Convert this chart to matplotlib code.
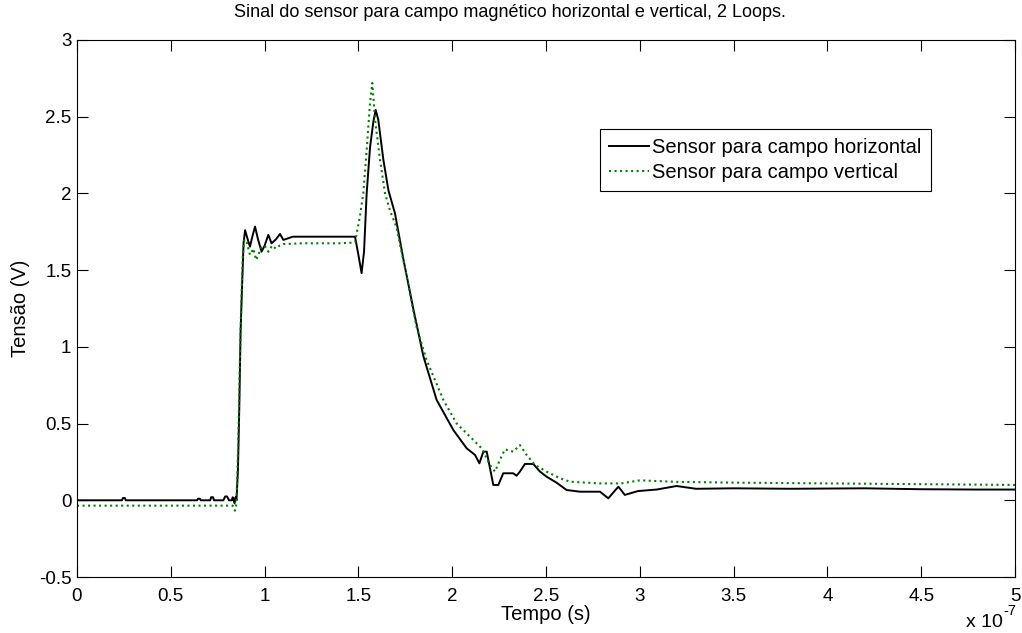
import numpy as np
import matplotlib
matplotlib.use("Agg")
import matplotlib.pyplot as plt
from matplotlib.ticker import FuncFormatter, MultipleLocator

plt.rcParams['font.family'] = ['Liberation Sans', 'DejaVu Sans']

# tempo em unidades de 1e-7 s
t_h = [0, 0.24, 0.245, 0.255, 0.26, 0.64, 0.645, 0.655, 0.66, 0.71, 0.715, 0.725, 0.73,
       0.78, 0.79, 0.8, 0.81, 0.825, 0.83, 0.84, 0.845, 0.85, 0.858, 0.865, 0.872, 0.88,
       0.888, 0.896, 0.91, 0.922, 0.935, 0.949, 0.965, 0.984, 1.0, 1.02, 1.037, 1.06,
       1.082, 1.1, 1.15, 1.2, 1.25, 1.3, 1.35, 1.4, 1.45, 1.482, 1.5, 1.517, 1.53, 1.544,
       1.562, 1.58, 1.592, 1.606, 1.633, 1.66, 1.695, 1.74, 1.794, 1.847, 1.917, 2.006,
       2.077, 2.122, 2.145, 2.166, 2.184, 2.219, 2.246, 2.272, 2.325, 2.343, 2.361, 2.388,
       2.432, 2.468, 2.503, 2.556, 2.61, 2.681, 2.788, 2.832, 2.886, 2.92, 2.99, 3.09,
       3.196, 3.3, 3.5, 3.8, 4.2, 4.5, 4.8, 5.0]
v_h = [0, 0, 0.015, 0.015, 0, 0, 0.01, 0.01, 0, 0, 0.02, 0.02, 0,
       0, 0.025, 0.025, 0, 0, 0.02, -0.02, 0.02, 0.0, 0.2, 0.6, 1.1, 1.4,
       1.68, 1.76, 1.70, 1.653, 1.72, 1.784, 1.70, 1.62, 1.66, 1.73, 1.675, 1.70,
       1.736, 1.697, 1.718, 1.718, 1.718, 1.718, 1.718, 1.718, 1.718, 1.718, 1.60, 1.48, 1.62, 2.0,
       2.3, 2.47, 2.544, 2.48, 2.22, 2.02, 1.87, 1.57, 1.24, 0.936, 0.654, 0.458,
       0.339, 0.295, 0.241, 0.317, 0.317, 0.10, 0.10, 0.176, 0.176, 0.16, 0.187, 0.237,
       0.237, 0.187, 0.154, 0.115, 0.067, 0.056, 0.056, 0.013, 0.089, 0.035, 0.06, 0.07,
       0.093, 0.075, 0.078, 0.075, 0.078, 0.072, 0.07, 0.07]

t_v = [0, 0.83, 0.842, 0.85, 0.86, 0.868, 0.876, 0.884, 0.892, 0.905, 0.922, 0.94,
       0.955, 0.984, 1.0, 1.02, 1.04, 1.06, 1.08, 1.1, 1.2, 1.3, 1.4, 1.482, 1.508,
       1.526, 1.544, 1.562, 1.574, 1.589, 1.615, 1.642, 1.668, 1.703, 1.757, 1.81,
       1.863, 1.953, 2.024, 2.095, 2.157, 2.201, 2.228, 2.254, 2.281, 2.325, 2.361,
       2.397, 2.441, 2.503, 2.575, 2.628, 2.788, 2.9, 3.0, 3.2, 3.5, 4.0, 4.5, 5.0]
v_v = [-0.035, -0.035, -0.068, -0.02, 0.4, 0.9, 1.3, 1.6, 1.7, 1.68, 1.60, 1.64,
       1.566, 1.65, 1.66, 1.62, 1.66, 1.64, 1.66, 1.67, 1.675, 1.675, 1.675, 1.68, 1.85,
       2.0, 2.28, 2.59, 2.72, 2.48, 2.22, 2.0, 1.89, 1.78, 1.46, 1.13,
       0.915, 0.654, 0.50, 0.415, 0.339, 0.23, 0.187, 0.263, 0.332, 0.317, 0.36,
       0.295, 0.23, 0.187, 0.143, 0.121, 0.11, 0.11, 0.13, 0.12, 0.115, 0.11, 0.105, 0.10]

th = np.array(t_h) * 1e-7
tv = np.array(t_v) * 1e-7

fig = plt.figure(figsize=(10.22, 6.33), dpi=100)
ax = fig.add_axes([77 / 1022, 56 / 633, 938 / 1022, 537 / 633])

ax.plot(th, v_h, color='black', lw=1.4, label='Sensor para campo horizontal')
ax.plot(tv, v_v, color='#008000', lw=1.5, ls=':', label='Sensor para campo vertical')

ax.set_xlim(0, 5e-7)
ax.set_ylim(-0.5, 3)
ax.xaxis.set_major_locator(MultipleLocator(0.5e-7))
ax.yaxis.set_major_locator(MultipleLocator(0.5))
ax.xaxis.set_major_formatter(FuncFormatter(lambda x, p: '%g' % round(x / 1e-7, 3)))
ax.yaxis.set_major_formatter(FuncFormatter(lambda y, p: '%g' % y))
ax.tick_params(direction='in', top=True, right=True, length=8, labelsize=13.5)
ax.tick_params(axis='x', pad=8)
ax.tick_params(axis='y', pad=4)

ax.text(0.4616, 1.052, 'Sinal do sensor para campo magnético horizontal e vertical, 2 Loops.',
        transform=ax.transAxes, ha='center', va='center', fontsize=13)
ax.set_xlabel('Tempo (s)', fontsize=14.5, labelpad=0)
ax.set_ylabel('Tensão (V)', fontsize=14.5, labelpad=6)

# "x 10^-7" como no MATLAB
ax.text(0.987, -0.084, 'x 10', transform=ax.transAxes, ha='right', va='center', fontsize=14)
ax.text(0.988, -0.063, '-7', transform=ax.transAxes, ha='left', va='center', fontsize=10.5)

leg = ax.legend(loc='upper right', bbox_to_anchor=(0.91, 0.834), fontsize=14.5,
                fancybox=False, framealpha=1, edgecolor='black', handlelength=2.0,
                handletextpad=0.15, borderpad=0.45, labelspacing=0.3, borderaxespad=0)
leg.get_frame().set_linewidth(0.8)

fig.savefig('out.png', dpi=100)
